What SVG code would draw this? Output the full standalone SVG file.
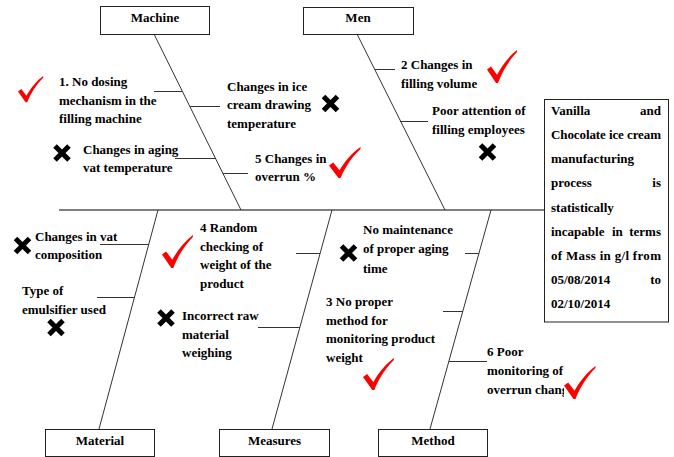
<svg xmlns="http://www.w3.org/2000/svg" xmlns:xlink="http://www.w3.org/1999/xlink" width="674" height="457" viewBox="0 0 674 457">
<style>
.t{font-family:"Liberation Serif","Times New Roman",serif;font-size:13px;font-weight:bold;fill:#000}
.m{text-anchor:middle}
.e{text-anchor:end}
.box{fill:#fff;stroke:#222;stroke-width:1}
.ln{stroke:#333;stroke-width:1;fill:none}
.sp{stroke:#000;stroke-width:1.2;fill:none}
.chk{fill:#f00}
.x{stroke:#000;stroke-width:5;fill:none}
</style>
<defs>
<path id="chk" d="M0,19 L4,16 L10,24 C15,15 22,6 30,0 L30,2 C23,9 16,19 11,32 L9,32 Z"/>
<path id="xm" d="M-7,-7 L7,7 M7,-7 L-7,7"/>
</defs>
<rect width="674" height="457" fill="#fff"/>
<g id="connectors">
<line class="sp" x1="59" y1="210" x2="544" y2="210"/>
<line class="ln" x1="154" y1="34" x2="241" y2="210"/>
<line class="ln" x1="357" y1="34" x2="445" y2="210"/>
<line class="ln" x1="158" y1="210" x2="99" y2="429"/>
<line class="ln" x1="332" y1="210" x2="272" y2="429"/>
<line class="ln" x1="491" y1="210" x2="430" y2="429"/>
<line class="ln" x1="154" y1="91.5" x2="182" y2="91.5"/>
<line class="ln" x1="190" y1="106.5" x2="220" y2="106.5"/>
<line class="ln" x1="175" y1="158.5" x2="215" y2="158.5"/>
<line class="ln" x1="223" y1="173.5" x2="248" y2="173.5"/>
<line class="ln" x1="375" y1="69.5" x2="395" y2="69.5"/>
<line class="ln" x1="400" y1="121.5" x2="428" y2="121.5"/>
<line class="ln" x1="100" y1="244.5" x2="149" y2="244.5"/>
<line class="ln" x1="97" y1="297.5" x2="135" y2="297.5"/>
<line class="ln" x1="296" y1="253.5" x2="320" y2="253.5"/>
<line class="ln" x1="258" y1="327.5" x2="300" y2="327.5"/>
<line class="ln" x1="465" y1="253.5" x2="479" y2="253.5"/>
<line class="ln" x1="443" y1="311.5" x2="463" y2="311.5"/>
<line class="ln" x1="449" y1="361.5" x2="487" y2="361.5"/>
</g>
<g id="machine"><rect class="box" x="100.5" y="6.5" width="109" height="28"/><text class="t m" x="155" y="22">Machine</text></g>
<g id="men"><rect class="box" x="303.5" y="7.5" width="110" height="27"/><text class="t m" x="358" y="22">Men</text></g>
<g id="material"><rect class="box" x="45.5" y="429.5" width="109" height="27"/><text class="t m" x="100" y="445">Material</text></g>
<g id="measures"><rect class="box" x="219.5" y="429.5" width="110" height="27"/><text class="t m" x="274.5" y="445">Measures</text></g>
<g id="method"><rect class="box" x="378.5" y="429.5" width="109" height="27"/><text class="t m" x="433" y="445">Method</text></g>
<g id="effect">
<rect class="box" x="544.5" y="99.5" width="124" height="222.5"/>
<text class="t" x="551" y="115">Vanilla</text><text class="t e" x="661" y="115">and</text>
<text class="t" x="551" y="139" textLength="110" lengthAdjust="spacing">Chocolate ice cream</text>
<text class="t" x="551" y="163">manufacturing</text>
<text class="t" x="551" y="187">process</text><text class="t e" x="661" y="187">is</text>
<text class="t" x="551" y="211.5">statistically</text>
<text class="t" x="551" y="236">incapable</text><text class="t" x="612" y="236">in</text><text class="t e" x="661" y="236">terms</text>
<text class="t" x="551" y="260" textLength="110" lengthAdjust="spacing">of Mass in g/l from</text>
<text class="t" x="551" y="284">05/08/2014</text><text class="t e" x="661" y="284">to</text>
<text class="t" x="551" y="308">02/10/2014</text>
</g>
<g id="cause-dosing">
<text class="t" x="59" y="86">1. No dosing</text>
<text class="t" x="59" y="104.5">mechanism in the</text>
<text class="t" x="59" y="123">filling machine</text>
<use href="#chk" class="chk" transform="translate(18,76) scale(0.84,0.82)"/>
</g>
<g id="cause-drawing-temp">
<text class="t" x="227" y="90.5">Changes in ice</text>
<text class="t" x="227" y="109">cream drawing</text>
<text class="t" x="227" y="127.5">temperature</text>
<use href="#xm" class="x" transform="translate(330.5,103.5)"/>
</g>
<g id="cause-aging-vat">
<text class="t" x="83" y="153.5">Changes in aging</text>
<text class="t" x="83" y="172">vat temperature</text>
<use href="#xm" class="x" transform="translate(62,153)"/>
</g>
<g id="cause-overrun">
<text class="t" x="255" y="162.5">5 Changes in</text>
<text class="t" x="255" y="181">overrun %</text>
<use href="#chk" class="chk" transform="translate(329,147) scale(1.05,0.97)"/>
</g>
<g id="cause-filling-volume">
<text class="t" x="401" y="69">2 Changes in</text>
<text class="t" x="401" y="87.5">filling volume</text>
<use href="#chk" class="chk" transform="translate(487,50) scale(1.0,1.03)"/>
</g>
<g id="cause-attention">
<text class="t" x="432" y="115">Poor attention of</text>
<text class="t" x="432" y="134">filling employees</text>
<use href="#xm" class="x" transform="translate(487.5,152)"/>
</g>
<g id="cause-vat-composition">
<text class="t" x="35" y="240.7">Changes in vat</text>
<text class="t" x="35" y="259">composition</text>
<use href="#xm" class="x" transform="translate(22.5,245.5)"/>
</g>
<g id="cause-emulsifier">
<text class="t" x="22" y="295">Type of</text>
<text class="t" x="22" y="314">emulsifier used</text>
<use href="#xm" class="x" transform="translate(56,327.5)"/>
</g>
<g id="cause-random-checking">
<text class="t" x="200" y="232">4 Random</text>
<text class="t" x="200" y="251">checking of</text>
<text class="t" x="200" y="269">weight of the</text>
<text class="t" x="200" y="287.5">product</text>
<use href="#chk" class="chk" transform="translate(162,235) scale(1.03,1.03)"/>
</g>
<g id="cause-weighing">
<text class="t" x="182" y="320">Incorrect raw</text>
<text class="t" x="182" y="339">material</text>
<text class="t" x="182" y="357">weighing</text>
<use href="#xm" class="x" transform="translate(166,318)"/>
</g>
<g id="cause-aging-time">
<text class="t" x="363" y="234">No maintenance</text>
<text class="t" x="363" y="253">of proper aging</text>
<text class="t" x="363" y="272.5">time</text>
<use href="#xm" class="x" transform="translate(348.5,253)"/>
</g>
<g id="cause-monitoring-weight">
<text class="t" x="326" y="306">3 No proper</text>
<text class="t" x="326" y="324.5">method for</text>
<text class="t" x="326" y="343">monitoring product</text>
<text class="t" x="326" y="361.5">weight</text>
<use href="#chk" class="chk" transform="translate(363,358) scale(1.03,1.0)"/>
</g>
<g id="cause-overrun-monitoring">
<text class="t" x="487" y="356">6 Poor</text>
<text class="t" x="487" y="375">monitoring of</text>
<text class="t" x="487" y="393.5">overrun chang</text>
<rect x="564" y="378" width="34" height="22" fill="#fff"/>
<use href="#chk" class="chk" transform="translate(564,366) scale(1.05,1.03)"/>
</g>
</svg>
